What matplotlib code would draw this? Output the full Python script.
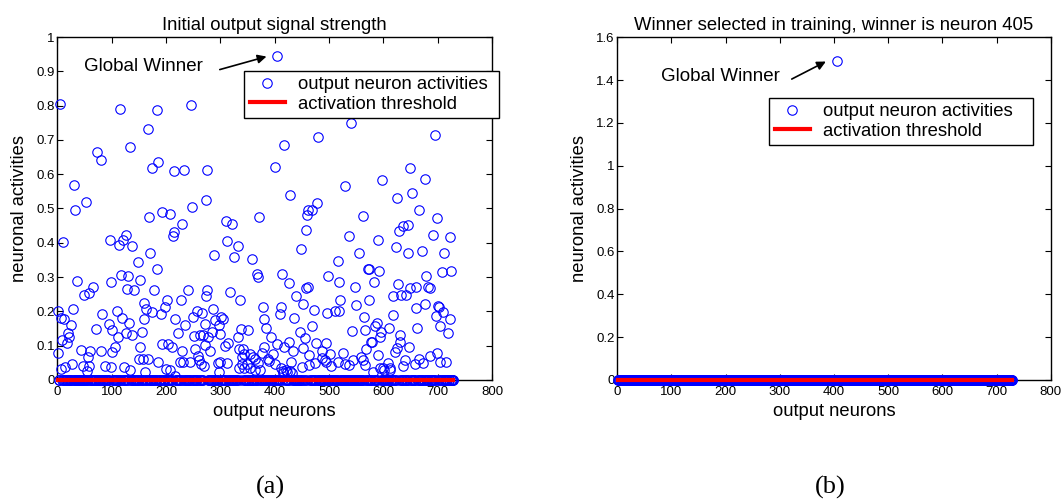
#!/usr/bin/env python3
"""Output neuron activities before and after winner selection."""

import matplotlib

matplotlib.use("Agg")
import matplotlib.pyplot as plt
import numpy as np
from matplotlib.ticker import FormatStrFormatter, MultipleLocator

plt.rcParams["font.family"] = ["Liberation Sans", "DejaVu Sans"]

BLUE = "#0000FF"
RED = "#FF0000"

N_NEURONS = 729
THRESHOLD = 0.0
WINNER = 405

# panel (a): neurons with non-zero initial output, all others sit at 0
ACTIVE_A = [
    1, 2, 5, 6, 7, 8, 10, 12, 14, 17, 20, 22, 26, 27, 28, 30, 32, 36, 43, 48,
    50, 53, 55, 56, 58, 59, 61, 65, 71, 73, 80, 81, 82, 88, 96, 97, 98, 99,
    100, 101, 107, 110, 112, 113, 115, 117, 119, 121, 122, 126, 127, 128, 131,
    132, 133, 134, 137, 138, 142, 148, 151, 152, 153, 156, 158, 159, 160, 162,
    164, 166, 167, 169, 170, 174, 175, 178, 183, 184, 185, 186, 191, 192, 193,
    199, 200, 201, 204, 207, 208, 212, 213, 214, 215, 216, 217, 222, 226, 228,
    229, 230, 231, 233, 235, 241, 244, 246, 248, 249, 252, 254, 257, 259, 261,
    262, 265, 267, 269, 270, 271, 272, 273, 274, 275, 276, 277, 281, 285, 287,
    289, 290, 296, 297, 298, 299, 300, 302, 305, 309, 310, 312, 313, 314, 317,
    321, 325, 332, 333, 334, 335, 336, 338, 339, 340, 342, 343, 344, 350, 351,
    354, 355, 358, 360, 363, 364, 368, 369, 370, 372, 373, 377, 378, 380, 381,
    385, 387, 389, 394, 397, 400, 401, 404, 405, 409, 411, 412, 414, 415, 416,
    417, 418, 420, 422, 426, 427, 428, 429, 431, 432, 434, 436, 440, 447, 449,
    450, 452, 453, 456, 457, 458, 460, 461, 462, 463, 464, 468, 469, 472, 474,
    477, 478, 480, 487, 488, 492, 494, 495, 496, 499, 501, 503, 511, 516, 517,
    518, 519, 520, 525, 529, 530, 536, 537, 540, 543, 545, 548, 550, 555, 558,
    562, 563, 565, 566, 567, 569, 571, 573, 574, 577, 579, 581, 583, 584, 588,
    590, 591, 592, 593, 594, 596, 598, 600, 602, 608, 610, 612, 613, 617, 618,
    622, 624, 625, 626, 627, 629, 630, 631, 633, 636, 637, 640, 642, 645, 646,
    648, 649, 650, 652, 658, 660, 661, 662, 665, 666, 672, 673, 676, 677, 679,
    683, 685, 686, 691, 696, 697, 698, 699, 700, 703, 704, 705, 708, 710, 711,
    716, 719, 722, 723, 724,
]
VALUES_A = [
    0.201, 0.080, 0.806, 0.031, 0.180, 0.117, 0.402, 0.179, 0.039, 0.107,
    0.138, 0.125, 0.159, 0.046, 0.207, 0.568, 0.495, 0.288, 0.088, 0.042,
    0.249, 0.519, 0.027, 0.066, 0.253, 0.042, 0.085, 0.272, 0.150, 0.665,
    0.642, 0.085, 0.191, 0.042, 0.163, 0.409, 0.037, 0.285, 0.146, 0.083,
    0.095, 0.201, 0.126, 0.393, 0.790, 0.305, 0.182, 0.409, 0.039, 0.423,
    0.138, 0.265, 0.302, 0.165, 0.029, 0.680, 0.392, 0.130, 0.261, 0.345,
    0.062, 0.097, 0.292, 0.141, 0.061, 0.224, 0.179, 0.022, 0.207, 0.061,
    0.733, 0.474, 0.370, 0.198, 0.619, 0.261, 0.324, 0.788, 0.053, 0.635,
    0.193, 0.490, 0.105, 0.212, 0.032, 0.234, 0.105, 0.485, 0.029, 0.095,
    0.421, 0.610, 0.431, 0.178, 0.013, 0.136, 0.052, 0.234, 0.086, 0.455,
    0.052, 0.612, 0.161, 0.261, 0.052, 0.803, 0.505, 0.183, 0.129, 0.091,
    0.201, 0.071, 0.058, 0.131, 0.048, 0.195, 0.131, 0.040, 0.164, 0.102,
    0.525, 0.244, 0.261, 0.612, 0.124, 0.085, 0.141, 0.207, 0.363, 0.175,
    0.049, 0.159, 0.022, 0.134, 0.053, 0.185, 0.177, 0.100, 0.465, 0.404,
    0.051, 0.109, 0.258, 0.455, 0.360, 0.125, 0.391, 0.091, 0.034, 0.234,
    0.148, 0.068, 0.048, 0.089, 0.076, 0.036, 0.048, 0.146, 0.076, 0.036,
    0.354, 0.068, 0.030, 0.060, 0.309, 0.050, 0.300, 0.475, 0.030, 0.078,
    0.214, 0.177, 0.097, 0.151, 0.060, 0.055, 0.126, 0.076, 0.048, 0.622,
    0.105, 0.945, 0.191, 0.034, 0.212, 0.309, 0.020, 0.025, 0.686, 0.095,
    0.030, 0.022, 0.112, 0.282, 0.025, 0.539, 0.052, 0.020, 0.086, 0.180,
    0.246, 0.141, 0.381, 0.038, 0.221, 0.094, 0.122, 0.268, 0.437, 0.480,
    0.496, 0.271, 0.073, 0.045, 0.496, 0.156, 0.204, 0.049, 0.109, 0.517,
    0.709, 0.086, 0.065, 0.058, 0.052, 0.108, 0.195, 0.303, 0.076, 0.040,
    0.202, 0.053, 0.347, 0.202, 0.285, 0.234, 0.080, 0.566, 0.047, 0.420,
    0.044, 0.750, 0.144, 0.058, 0.272, 0.219, 0.370, 0.068, 0.058, 0.479,
    0.183, 0.146, 0.044, 0.091, 0.324, 0.234, 0.324, 0.112, 0.112, 0.024,
    0.285, 0.156, 0.165, 0.407, 0.073, 0.319, 0.126, 0.036, 0.141, 0.583,
    0.036, 0.030, 0.049, 0.153, 0.028, 0.034, 0.190, 0.246, 0.083, 0.389,
    0.530, 0.093, 0.279, 0.433, 0.132, 0.112, 0.248, 0.450, 0.042, 0.058,
    0.248, 0.453, 0.370, 0.097, 0.619, 0.268, 0.546, 0.047, 0.209, 0.272,
    0.153, 0.496, 0.060, 0.375, 0.049, 0.223, 0.587, 0.302, 0.271, 0.071,
    0.268, 0.423, 0.715, 0.188, 0.080, 0.471, 0.216, 0.214, 0.052, 0.156,
    0.314, 0.199, 0.370, 0.053, 0.138, 0.177, 0.417, 0.319,
]

# panel (b): only the winner keeps a non-zero activity
ACTIVE_B = [WINNER]
VALUES_B = [1.49]

X_TICKS = [0, 100, 200, 300, 400, 500, 600, 700, 800]
TITLE_A = "Initial output signal strength"
TITLE_B = "Winner selected in training, winner is neuron 405"


def activity_vector(idx, vals):
    neurons = np.arange(1, N_NEURONS + 1)
    act = np.zeros(N_NEURONS)
    act[np.asarray(idx) - 1] = vals
    return neurons, act


def draw_panel(ax, idx, vals, title, ymax, ystep, legend_box,
               text_xy, arrow_tail):
    neurons, act = activity_vector(idx, vals)
    ax.plot(neurons, act, "o", linestyle="none", markersize=6.8,
            markerfacecolor="none", markeredgecolor=BLUE,
            markeredgewidth=0.8, clip_on=False, zorder=3,
            label="output neuron activities")
    ax.plot(neurons, np.full(N_NEURONS, THRESHOLD), color=RED, linewidth=3,
            clip_on=False, zorder=4, label="activation threshold")

    ax.set_xlim(0, 800)
    ax.set_ylim(0, ymax)
    ax.set_xticks(X_TICKS)
    ax.yaxis.set_major_locator(MultipleLocator(ystep))
    ax.yaxis.set_major_formatter(FormatStrFormatter("%g"))
    ax.tick_params(direction="in", length=4, width=0.8, labelsize=9.5,
                   top=True, right=True, pad=2)
    ax.tick_params(axis="x", pad=4)
    for sp in ax.spines.values():
        sp.set_linewidth(1.0)

    ax.set_title(title, fontsize=13.3, pad=5)
    ax.set_xlabel("output neurons", fontsize=13.2, labelpad=4)
    ax.set_ylabel("neuronal activities", fontsize=13.2, labelpad=6)

    # legend box spans a fixed width like the original figure
    leg = ax.legend(loc="upper left", bbox_to_anchor=legend_box,
                    mode="expand", fontsize=13.3, numpoints=1,
                    handlelength=1.9, handletextpad=0.75, borderpad=0.3,
                    labelspacing=0.12, fancybox=False, framealpha=1,
                    borderaxespad=0)
    leg.get_frame().set_edgecolor("black")
    leg.get_frame().set_linewidth(1.0)

    win_y = act[WINNER - 1]
    ax.annotate("", xy=(WINNER - 20, win_y - 0.002 * ymax),
                xytext=arrow_tail,
                arrowprops=dict(arrowstyle="-|>", color="black", lw=1.2,
                                mutation_scale=13, shrinkA=0, shrinkB=0))
    ax.text(text_xy[0], text_xy[1], "Global Winner", fontsize=13.5,
            ha="center", va="center")


def main():
    fig = plt.figure(figsize=(10.62, 5.01), dpi=100)
    fig.patch.set_facecolor("white")

    ax_a = fig.add_axes([57.3 / 1062, 121 / 501, 434.7 / 1062, 343 / 501])
    ax_b = fig.add_axes([617.3 / 1062, 121 / 501, 433.4 / 1062, 342.7 / 501])

    draw_panel(ax_a, ACTIVE_A, VALUES_A, TITLE_A, 1.0, 0.1,
               (0.4295, 0.901, 0.5866, 0.0), (158, 0.914), (299, 0.905))
    draw_panel(ax_b, ACTIVE_B, VALUES_B, TITLE_B, 1.6, 0.2,
               (0.35, 0.823, 0.609, 0.0), (191, 1.419), (322, 1.405))

    fig.text(270 / 1062, 1 - 487 / 501, "(a)", family="Liberation Serif",
             fontsize=19, ha="center", va="center")
    fig.text(830 / 1062, 1 - 487 / 501, "(b)", family="Liberation Serif",
             fontsize=19, ha="center", va="center")

    fig.savefig("out.png", dpi=100)
    plt.close(fig)


if __name__ == "__main__":
    main()
